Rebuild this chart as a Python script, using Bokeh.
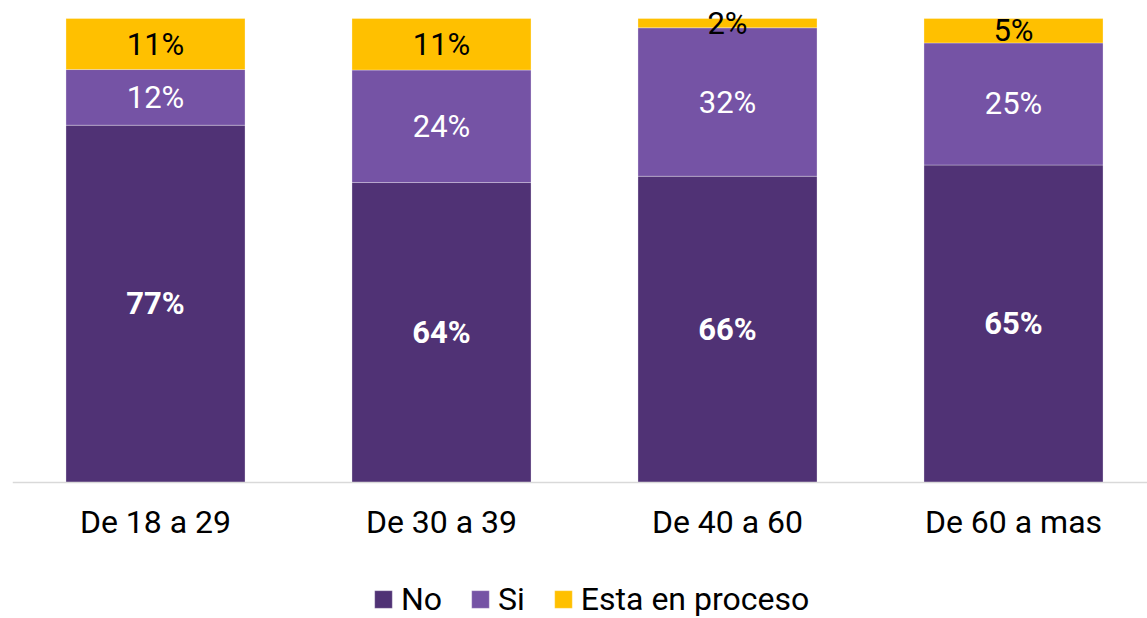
from bokeh.plotting import figure
from bokeh.models import Range1d, FixedTicker, Legend, ColumnDataSource
from bokeh.core.properties import value
from bokeh.embed import file_html
from bokeh.resources import INLINE

categories = ["De 18 a 29", "De 30 a 39", "De 40 a 60", "De 60 a mas"]
no_vals = [77, 64, 66, 65]
si_vals = [12, 24, 32, 25]
proc_vals = [11, 11, 2, 5]
series_names = ["No", "Si", "Esta en proceso"]
colors = ["#503275", "#7553A5", "#FFC000"]
label_colors = ["white", "white", "black"]
label_styles = ["bold", "normal", "normal"]

FONT = "Roboto"
xs = [i + 0.5 for i in range(len(categories))]
totals = [a + b + c for a, b, c in zip(no_vals, si_vals, proc_vals)]
raw = [no_vals, si_vals, proc_vals]
shares = [[v / t for v, t in zip(s, totals)] for s in raw]

data = dict(x=xs)
keys = ["no", "si", "proc"]
for k, s in zip(keys, shares):
    data[k] = s
src = ColumnDataSource(data)

# frame covers the canvas; 464 px per 100 %, zero line 482 px below the top
FW, FH, PX100, ZERO = 1135, 618, 464, 482
p = figure(frame_width=FW, frame_height=FH,
           x_range=Range1d(0, FW / 286),
           y_range=Range1d(-(FH - ZERO) / PX100, ZERO / PX100),
           output_backend="svg", toolbar_location=None,
           min_border_left=12, min_border_right=0, min_border_top=0,
           min_border_bottom=0)

renderers = p.vbar_stack(keys, x="x", width=0.626, source=src, color=colors,
                         line_color="white", line_width=0.6, line_alpha=0.5)

# labels
for i, (s, vals) in enumerate(zip(shares, raw)):
    bottoms = [sum(shares[j][k] for j in range(i)) for k in range(len(xs))]
    ys = [b + v / 2 for b, v in zip(bottoms, s)]
    p.text(x=xs, y=ys, text=[f"{v}%" for v in vals],
           text_font=value(FONT), text_font_size="31px",
           text_font_style=label_styles[i], text_color=label_colors[i],
           text_align="center", text_baseline="middle")

p.xaxis.fixed_location = 0
p.xaxis.ticker = FixedTicker(ticks=xs)
p.xaxis.major_label_overrides = {x: c for x, c in zip(xs, categories)}
p.xaxis.major_label_text_font = FONT
p.xaxis.major_label_text_font_size = "32px"
p.xaxis.major_label_text_color = "black"
p.xaxis.major_label_standoff = 20
p.xaxis.major_tick_line_color = None
p.xaxis.minor_tick_line_color = None
p.xaxis.major_tick_out = 0
p.xaxis.major_tick_in = 0
p.xaxis.axis_line_color = "#d9d9d9"
p.xaxis.axis_line_width = 1.5
p.yaxis.visible = False
p.xgrid.visible = False
p.ygrid.visible = False
p.outline_line_color = None

legend = Legend(items=[(n, [r]) for n, r in zip(series_names, renderers)],
                orientation="horizontal", location=(360, 0))
legend.label_text_font = FONT
legend.label_text_font_size = "32px"
legend.label_text_color = "black"
legend.glyph_width = 22
legend.glyph_height = 22
legend.label_standoff = 7
legend.spacing = 27
legend.padding = 0
legend.margin = 0
legend.border_line_color = None
legend.background_fill_alpha = 0
p.add_layout(legend, "center")

open("out.html", "w").write(file_html(p, INLINE))
